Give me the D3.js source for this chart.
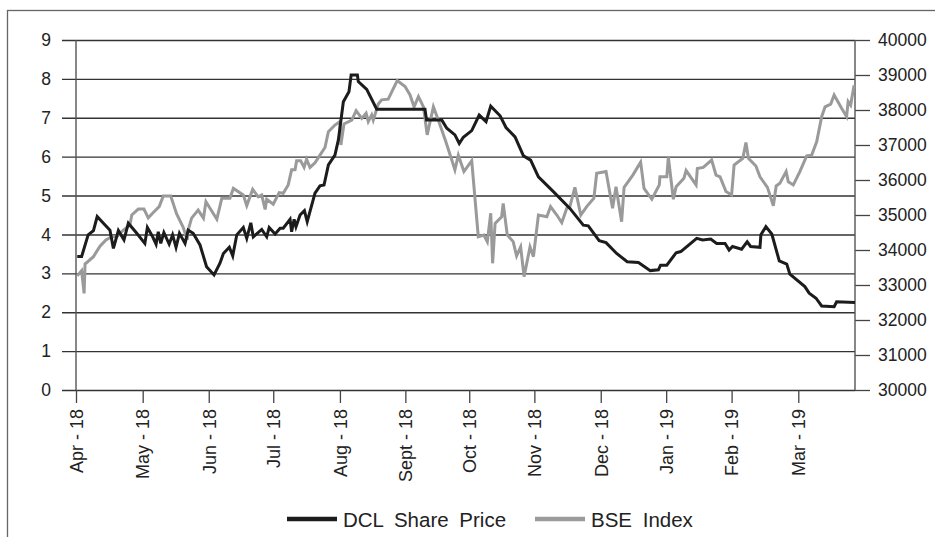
<!DOCTYPE html>
<html>
<head>
<meta charset="utf-8">
<script src="https://cdnjs.cloudflare.com/ajax/libs/d3/7.8.5/d3.min.js"></script>
<style>
	body { margin: 0; background: #fff; }
	text { font-family: "Liberation Sans", Arial, sans-serif; fill: #222; }
</style>
</head>
<body>
<div id="chart"></div>
<script>
// month ticks, placed by trading day number (0 = first trading day of Apr 2018)
var monthLabels = ["Apr - 18", "May - 18", "Jun - 18", "Jul - 18", "Aug - 18", "Sept - 18",
				   "Oct - 18", "Nov - 18", "Dec - 18", "Jan - 19", "Feb - 19", "Mar - 19"];
var monthDays = [0, 21.4, 42.6, 63.3, 84.7, 105.7, 126.2, 147.1, 168.4, 189.4, 210.4, 231.8];
var lastDay = 250;

// DCL share price (left axis)
var dclDays = [0.4,1.8,3.9,5.6,6.8,8.8,10.9,12.0,13.6,15.4,16.8,19.5,22.1,22.9,24.6,25.7,26.4,27.2,28.2,29.9,
			   31.0,32.1,33.2,35.0,36.0,37.6,39.8,41.9,44.3,46.2,47.3,49.2,50.3,51.6,53.7,54.8,56.1,56.9,59.6,61.2,
			   62.0,63.9,65.5,66.5,68.7,69.2,70.0,70.6,71.9,73.3,74.2,76.7,78.3,79.6,81.0,83.1,84.2,85.8,87.6,88.3,
			   90.3,90.6,93.3,96.5,112.0,112.5,117.4,119.0,121.6,123.0,124.3,127.0,129.4,131.6,133.1,136.1,138.0,140.9,143.6,145.9,
			   148.4,153.2,158.5,162.8,164.4,167.9,170.1,173.5,176.9,180.5,184.3,186.9,187.6,189.6,192.6,194.1,199.2,201.1,203.7,205.6,
			   208.3,209.6,210.7,213.6,215.4,216.5,219.5,219.8,221.4,223.3,225.7,228.1,229.1,233.9,235.3,237.5,239.3,243.3,244.1,250.0];
var dclPrice = [3.43,3.43,3.99,4.1,4.46,4.29,4.11,3.64,4.1,3.86,4.29,4.03,3.77,4.18,3.94,3.75,4.07,3.77,4.05,3.75,
				3.99,3.67,4.03,3.77,4.11,4.03,3.73,3.17,2.96,3.26,3.51,3.67,3.45,3.99,4.18,3.9,4.3,3.94,4.13,3.94,
				4.18,4.01,4.16,4.16,4.39,4.07,4.39,4.2,4.5,4.61,4.33,5.06,5.25,5.27,5.79,6.04,6.43,7.41,7.67,8.1,
				8.1,7.93,7.73,7.22,7.22,6.94,6.94,6.73,6.56,6.34,6.5,6.67,7.07,6.9,7.3,7.05,6.75,6.51,6.02,5.91,
				5.48,5.1,4.67,4.24,4.22,3.84,3.79,3.51,3.3,3.28,3.07,3.09,3.21,3.21,3.53,3.56,3.9,3.86,3.88,3.77,
				3.77,3.6,3.69,3.62,3.81,3.69,3.67,3.99,4.2,4.01,3.32,3.24,2.98,2.66,2.49,2.36,2.16,2.14,2.27,2.25];

// BSE index (right axis)
var bseDays = [0.4,1.8,2.6,2.9,5.6,7.7,9.6,11.5,13.1,15.2,17.3,17.9,20.0,21.8,23.2,24.8,26.7,28.0,30.4,32.3,
			   34.4,35.7,36.0,37.1,39.2,40.9,41.7,45.2,46.8,49.4,50.5,53.7,54.8,56.7,58.5,59.6,60.7,61.2,63.3,65.2,
			   66.5,68.1,69.2,70.3,70.8,72.1,73.2,74.0,75.1,76.7,78.3,79.9,81.0,83.1,84.7,85.0,86.0,88.5,89.9,91.7,
			   93.1,93.8,94.9,95.4,97.0,98.1,100.2,103.1,105.6,107.2,108.5,109.9,111.5,112.7,114.7,116.3,118.7,120.6,121.6,122.7,
			   124.5,127.0,129.1,130.9,132.0,133.1,133.7,134.5,136.6,137.1,138.4,140.3,141.4,142.7,143.8,145.7,146.8,148.4,151.1,152.3,
			   154.3,155.9,157.5,158.5,160.1,162.0,163.9,166.2,167.1,170.1,172.2,173.3,175.1,175.9,178.7,181.2,182.3,184.8,187.2,187.4,
			   189.6,190.1,191.7,192.6,195.1,195.8,199.0,199.4,201.3,204.0,205.4,206.7,208.6,210.4,211.2,214.0,215.0,215.8,218.2,219.5,
			   221.9,223.8,224.7,225.9,227.9,228.6,230.2,232.3,234.5,236.1,237.7,239.3,240.4,242.2,243.3,245.7,247.3,247.8,248.6,249.7];
var bseIndex = [33260,33410,32760,33600,33810,34110,34290,34380,34380,34570,34710,35000,35170,35170,34920,35070,35240,35540,35540,35030,
				34650,34290,34570,34910,35140,34910,35380,34880,35480,35480,35760,35570,35270,35730,35520,35570,35160,35450,35310,35640,
				35620,35860,36290,36290,36550,36550,36360,36590,36360,36490,36710,36930,37380,37570,37670,37000,37600,37710,37980,37760,
				37910,37670,37860,37710,38170,38290,38310,38840,38670,38430,38090,38380,38090,37290,38090,37710,37090,36570,36290,36710,
				36240,36550,34380,34430,34240,35050,33620,34760,34950,35330,34430,34240,33830,34090,33240,34090,33810,35000,34950,35240,
				35000,34780,35190,35240,35790,35000,35240,35480,36190,36240,35190,35810,34810,35790,36140,36510,35760,35450,35860,36090,
				36090,36650,35450,35810,36050,36270,35860,36330,36360,36570,36140,36090,35670,35570,36430,36620,37070,36620,36400,36090,
				35790,35260,35830,35910,36240,35950,35860,36240,36690,36710,37090,37810,38090,38170,38430,38050,37810,38240,38140,38710];

var seriesNames = ["DCL Share Price", "BSE Index"];
var seriesColors = ["#1c1c1c", "#9a9a9a"];

function init(){
	lineChart();
}

function lineChart(){
	var width = 935;
	var height = 537;
	var left = 76, right = 855, top = 40, bottom = 390;

	var svg = d3.select("#chart").append("svg")
				.attr("width", width)
				.attr("height", height);

	//outer frame of the figure
	svg.append("rect")
	   .attr("x", 7.5)
	   .attr("y", 10.5)
	   .attr("width", width)
	   .attr("height", height)
	   .attr("fill", "none")
	   .attr("stroke", "#666")
	   .attr("stroke-width", 1.3);

	var x = d3.scaleLinear().domain([0, lastDay]).range([left, right]);
	var yLeft = d3.scaleLinear().domain([0, 9]).range([bottom, top]);
	var yRight = d3.scaleLinear().domain([30000, 40000]).range([bottom, top]);

	//left axis, its ticks stretched across as gridlines
	svg.append("g")
	   .attr("transform", "translate(" + left + ",0)")
	   .call(d3.axisLeft(yLeft).tickValues(d3.range(0, 10)).tickSize(14).tickPadding(11))
	   .call(function(g){
		   g.select(".domain").remove();
		   g.selectAll(".tick line")
			.attr("x1", right - left)
			.attr("stroke", "#333")
			.attr("stroke-width", 1.4);
		   g.selectAll(".tick text")
			.style("font-size", "17.5px")
			.attr("fill", "#222");
	   });

	//right axis
	svg.append("g")
	   .attr("transform", "translate(" + right + ",0)")
	   .call(d3.axisRight(yRight).tickValues(d3.range(30000, 40001, 1000))
			 .tickFormat(d3.format("d")).tickSize(15).tickPadding(8))
	   .call(function(g){
		   g.select(".domain").remove();
		   g.selectAll(".tick line").attr("stroke", "#444").attr("stroke-width", 1.3);
		   g.selectAll(".tick text")
			.style("font-size", "17.5px")
			.attr("fill", "#222");
	   });

	//bottom axis with rotated month labels
	svg.append("g")
	   .attr("transform", "translate(0," + bottom + ")")
	   .call(d3.axisBottom(x).tickValues(monthDays)
			 .tickFormat(function(d, i){ return monthLabels[i]; }).tickSize(13))
	   .call(function(g){
		   g.select(".domain").remove();
		   g.selectAll(".tick line").attr("stroke", "#444").attr("stroke-width", 1.3);
		   g.selectAll(".tick text")
			.attr("transform", "rotate(-90)")
			.attr("text-anchor", "end")
			.attr("x", -19)
			.attr("y", 0)
			.attr("dy", "0.35em")
			.style("font-size", "18px")
			.attr("fill", "#222");
	   });

	//vertical axis lines
	svg.append("line")
	   .attr("x1", left).attr("x2", left)
	   .attr("y1", top).attr("y2", bottom)
	   .attr("stroke", "#555").attr("stroke-width", 1.4);
	svg.append("line")
	   .attr("x1", right).attr("x2", right)
	   .attr("y1", top).attr("y2", bottom)
	   .attr("stroke", "#555").attr("stroke-width", 1.4);

	//data lines, BSE drawn first so DCL sits on top
	var bseLine = d3.line()
					.x(function(d, i){ return x(bseDays[i]); })
					.y(function(d){ return yRight(d); });
	var dclLine = d3.line()
					.x(function(d, i){ return x(dclDays[i]); })
					.y(function(d){ return yLeft(d); });

	svg.append("path")
	   .datum(bseIndex)
	   .attr("fill", "none")
	   .attr("stroke", seriesColors[1])
	   .attr("stroke-width", 3)
	   .attr("stroke-linejoin", "miter")
	   .attr("d", bseLine);

	svg.append("path")
	   .datum(dclPrice)
	   .attr("fill", "none")
	   .attr("stroke", seriesColors[0])
	   .attr("stroke-width", 3)
	   .attr("stroke-linejoin", "miter")
	   .attr("d", dclLine);

	//legend
	var legendX = [287, 535];
	var legend = svg.selectAll("g.legend")
					.data(seriesNames)
					.enter().append("g")
					.attr("class", "legend")
					.attr("transform", function(d, i){ return "translate(" + legendX[i] + ",519)"; });

	legend.append("line")
		  .attr("x1", 0).attr("x2", 50)
		  .attr("stroke", function(d, i){ return seriesColors[i]; })
		  .attr("stroke-width", 4.5);

	legend.append("text")
		  .attr("x", 56)
		  .attr("y", 7.5)
		  .style("font-size", "20.5px")
		  .style("word-spacing", "5px")
		  .text(function(d){ return d; });
}

window.onload = init;
</script>
</body>
</html>
